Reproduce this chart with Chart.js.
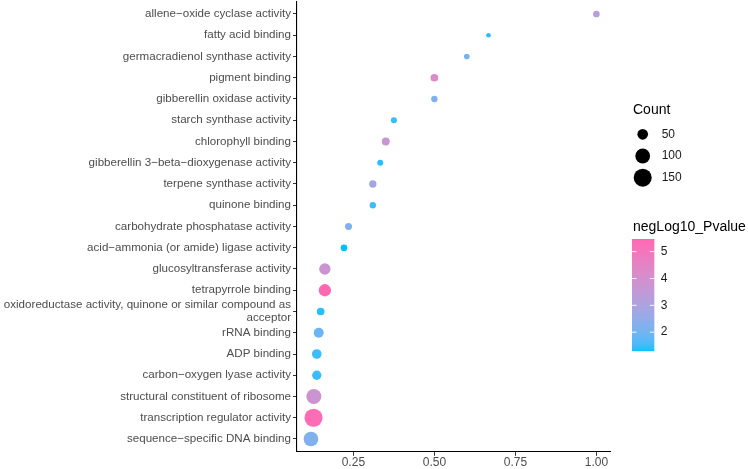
<!DOCTYPE html>
<html>
<head>
<meta charset="utf-8">
<script src="https://cdn.jsdelivr.net/npm/chart.js@4/dist/chart.umd.min.js"></script>
<style>
    html, body { margin: 0; padding: 0; background: #ffffff; }
    #wrap { width: 748px; height: 469px; position: relative; }
</style>
</head>
<body>
<div id="wrap"><canvas id="chart"></canvas></div>
<script>
// GO terms, top to bottom
const categories = [
    'allene−oxide cyclase activity',
    'fatty acid binding',
    'germacradienol synthase activity',
    'pigment binding',
    'gibberellin oxidase activity',
    'starch synthase activity',
    'chlorophyll binding',
    'gibberellin 3−beta−dioxygenase activity',
    'terpene synthase activity',
    'quinone binding',
    'carbohydrate phosphatase activity',
    'acid−ammonia (or amide) ligase activity',
    'glucosyltransferase activity',
    'tetrapyrrole binding',
    'oxidoreductase activity, quinone or similar compound as\nacceptor',
    'rRNA binding',
    'ADP binding',
    'carbon−oxygen lyase activity',
    'structural constituent of ribosome',
    'transcription regulator activity',
    'sequence−specific DNA binding',
];

const ratios = [
    1.0, 0.667, 0.6, 0.5, 0.5, 0.375, 0.35, 0.333, 0.31, 0.31, 0.235,
    0.221, 0.162, 0.162, 0.149, 0.143, 0.137, 0.137, 0.128, 0.127, 0.119,
];

const counts = [
    17, 6, 11, 24, 15, 13, 26, 13, 21, 15, 19,
    17, 57, 68, 24, 43, 40, 37, 103, 152, 98,
];

const negLog10P = [
    3.3, 1.4, 2.0, 4.2, 2.2, 1.45, 3.7, 1.4, 2.8, 1.5, 2.2,
    1.31, 3.8, 5.47, 1.4, 1.9, 1.5, 1.5, 3.8, 5.35, 2.2,
];

const xTicks = [0.25, 0.5, 0.75, 1.0];
const countBreaks = [50, 100, 150];
const colorBreaks = [2, 3, 4, 5];

const LOW = '#00BFFF';
const HIGH = '#FF69B4';
const FONT = '"Liberation Sans", Arial, sans-serif';

// colour helpers (ggplot interpolates the gradient in Lab)
function hexToRgb(hex) {
    const n = parseInt(hex.slice(1), 16);
    return [(n >> 16) & 255, (n >> 8) & 255, n & 255];
}

function toLinear(c) {
    c /= 255;
    return c <= 0.04045 ? c / 12.92 : Math.pow((c + 0.055) / 1.055, 2.4);
}

function fromLinear(c) {
    const v = c <= 0.0031308 ? 12.92 * c : 1.055 * Math.pow(c, 1 / 2.4) - 0.055;
    return Math.round(Math.min(1, Math.max(0, v)) * 255);
}

function rgbToLab([r, g, b]) {
    const R = toLinear(r), G = toLinear(g), B = toLinear(b);
    let x = (R * 0.4124 + G * 0.3576 + B * 0.1805) / 0.95047;
    let y = (R * 0.2126 + G * 0.7152 + B * 0.0722);
    let z = (R * 0.0193 + G * 0.1192 + B * 0.9505) / 1.08883;
    const f = (t) => (t > 0.008856 ? Math.cbrt(t) : 7.787 * t + 16 / 116);
    x = f(x); y = f(y); z = f(z);
    return [116 * y - 16, 500 * (x - y), 200 * (y - z)];
}

function labToRgb([L, a, b]) {
    let y = (L + 16) / 116;
    let x = a / 500 + y;
    let z = y - b / 200;
    const f = (t) => (t * t * t > 0.008856 ? t * t * t : (t - 16 / 116) / 7.787);
    x = f(x) * 0.95047; y = f(y); z = f(z) * 1.08883;
    const R = x * 3.2406 + y * -1.5372 + z * -0.4986;
    const G = x * -0.9689 + y * 1.8758 + z * 0.0415;
    const B = x * 0.0557 + y * -0.2040 + z * 1.0570;
    return [fromLinear(R), fromLinear(G), fromLinear(B)];
}

const lowLab = rgbToLab(hexToRgb(LOW));
const highLab = rgbToLab(hexToRgb(HIGH));
const pMin = Math.min(...negLog10P);
const pMax = Math.max(...negLog10P);

function colorFor(v) {
    const t = Math.min(1, Math.max(0, (v - pMin) / (pMax - pMin)));
    const lab = lowLab.map((c, i) => c + (highLab[i] - c) * t);
    const [r, g, b] = labToRgb(lab);
    return `rgb(${r}, ${g}, ${b})`;
}

function radiusFor(count) {
    return Math.sqrt(9 + 2.1 * count) / 2;
}

const legendPlugin = {
    id: 'sideLegends',
    afterDraw(chart) {
        const ctx = chart.ctx;
        ctx.save();
        ctx.textBaseline = 'middle';
        ctx.textAlign = 'left';

        // size legend
        ctx.fillStyle = '#000000';
        ctx.font = `14px ${FONT}`;
        ctx.fillText('Count', 633, 110);
        countBreaks.forEach((c, i) => {
            const y = 134.3 + i * 21.7;
            ctx.fillStyle = '#000000';
            ctx.beginPath();
            ctx.arc(642.7, y, radiusFor(c), 0, Math.PI * 2);
            ctx.fill();
            ctx.fillStyle = '#1a1a1a';
            ctx.font = `12px ${FONT}`;
            ctx.fillText(String(c), 661.7, y);
        });

        // colour bar
        ctx.fillStyle = '#000000';
        ctx.font = `14px ${FONT}`;
        ctx.fillText('negLog10_Pvalue', 633, 227.3);
        const barX = 632;
        const barW = 22.3;
        const barTop = 239;
        const barBottom = 350.7;
        const barH = barBottom - barTop;
        for (let i = 0; i < barH; i += 1) {
            const v = pMax - (i / barH) * (pMax - pMin);
            ctx.fillStyle = colorFor(v);
            ctx.fillRect(barX, barTop + i, barW, 1.2);
        }
        colorBreaks.forEach((v) => {
            const y = barBottom - ((v - pMin) / (pMax - pMin)) * barH;
            ctx.strokeStyle = 'rgba(255,255,255,0.9)';
            ctx.lineWidth = 1;
            ctx.beginPath();
            ctx.moveTo(barX, y);
            ctx.lineTo(barX + 4.5, y);
            ctx.moveTo(barX + barW - 4.5, y);
            ctx.lineTo(barX + barW, y);
            ctx.stroke();
            ctx.fillStyle = '#1a1a1a';
            ctx.font = `12px ${FONT}`;
            ctx.fillText(String(v), 660.7, y);
        });

        ctx.restore();
    },
};

const points = categories.map((name, i) => ({
    x: ratios[i],
    y: i,
    count: counts[i],
    p: negLog10P[i],
}));

new Chart(document.getElementById('chart'), {
    type: 'bubble',
    data: {
        datasets: [{
            data: points,
            backgroundColor: (c) => colorFor(c.raw.p),
            borderWidth: 0,
            radius: (c) => radiusFor(c.raw.count),
            clip: false,
        }],
    },
    options: {
        responsive: true,
        maintainAspectRatio: false,
        animation: false,
        layout: {
            autoPadding: false,
            padding: { top: 1.25, right: 138, left: 0, bottom: 0 },
        },
        plugins: {
            legend: { display: false },
            tooltip: { enabled: false },
        },
        scales: {
            x: {
                type: 'linear',
                min: 0.076,
                max: 1.042,
                afterBuildTicks: (scale) => {
                    scale.ticks = xTicks.map((value) => ({ value }));
                },
                afterFit: (scale) => {
                    scale.height = 17.25;
                    scale.paddingLeft = 0;
                    scale.paddingRight = 0;
                },
                grid: {
                    drawOnChartArea: false,
                    drawTicks: true,
                    tickLength: 4,
                    color: '#333333',
                },
                border: { display: true, color: '#000000', width: 1.1 },
                ticks: {
                    color: '#4d4d4d',
                    padding: 1,
                    maxRotation: 0,
                    font: { family: FONT, size: 12, lineHeight: 1 },
                    callback: (v) => Number(v).toFixed(2),
                },
            },
            y: {
                type: 'linear',
                reverse: true,
                min: -0.6,
                max: 20.6,
                afterBuildTicks: (scale) => {
                    scale.ticks = categories.map((_, i) => ({ value: i }));
                },
                afterFit: (scale) => {
                    scale.width = 297;
                    scale.paddingTop = 0;
                    scale.paddingBottom = 0;
                },
                grid: {
                    drawOnChartArea: false,
                    drawTicks: true,
                    tickLength: 4,
                    color: '#333333',
                },
                border: { display: true, color: '#000000', width: 1.1 },
                ticks: {
                    color: '#4d4d4d',
                    padding: 2,
                    autoSkip: false,
                    font: { family: FONT, size: 11.6, lineHeight: 1.12 },
                    callback: (v) => {
                        const label = categories[v];
                        return label && label.includes('\n') ? label.split('\n') : label;
                    },
                },
            },
        },
    },
    plugins: [legendPlugin],
});
</script>
</body>
</html>
